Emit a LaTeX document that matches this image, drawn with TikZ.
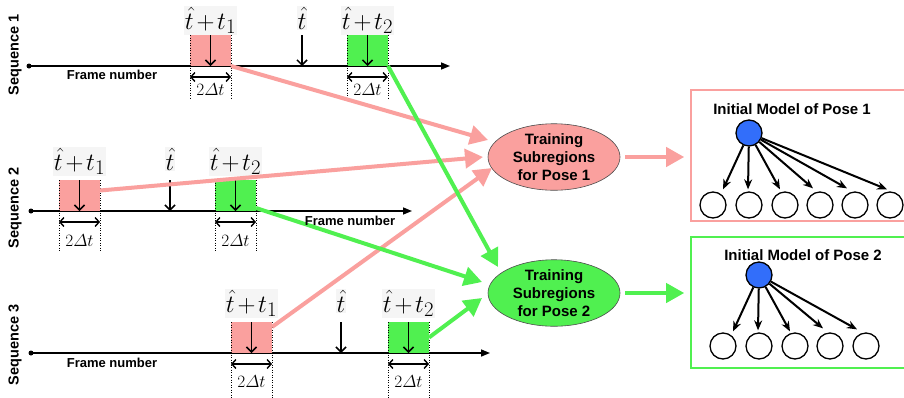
\documentclass[tikz,border=0pt]{standalone}
\usepackage{fontspec}
\newfontfamily\arialf{Liberation Sans}
\usetikzlibrary{arrows.meta,shapes.geometric}
\definecolor{pinkc}{RGB}{250,160,158}
\definecolor{greenc}{RGB}{80,240,80}
\definecolor{bluec}{RGB}{50,110,250}
\newcommand\itDelta{\mathchar"0101}
\tikzset{
  axisline/.style={line width=1.5pt,-{Triangle[length=9pt,width=7pt]}},
  dotnode/.style={circle,fill=black,inner sep=0pt,minimum size=5pt},
  redbox/.style={rectangle,fill=pinkc,minimum width=41pt,minimum height=31pt,inner sep=0pt,outer sep=0pt},
  greenbox/.style={redbox,fill=greenc},
  downarr/.style={line width=1.5pt,-{Straight Barb[length=5pt,width=10pt]}},
  dblarr/.style={line width=1.4pt,{Straight Barb[length=4pt,width=9pt]}-{Straight Barb[length=4pt,width=9pt]}},
  dotline/.style={line width=0.9pt,dash pattern=on 1pt off 1.5pt},
  mathlbl/.style={font=\fontsize{28}{30}\selectfont,anchor=base,fill=black!4,inner sep=1pt},
  deltalbl/.style={font=\fontsize{18}{20}\selectfont,inner sep=0pt},
  seqlbl/.style={rotate=90,font=\arialf\bfseries\fontsize{14.5}{16}\selectfont,inner sep=0pt},
  framelbl/.style={font=\arialf\bfseries\fontsize{13}{15}\selectfont,inner sep=0pt},
  pinkconn/.style={draw=pinkc,line width=4pt,-{Triangle[length=18pt,width=19pt]}},
  greenconn/.style={draw=greenc,line width=4pt,-{Triangle[length=18pt,width=19pt]}},
  trainell/.style={ellipse,draw=black!70,line width=0.6pt,minimum width=132pt,minimum height=60pt,inner sep=0pt,align=center,font=\arialf\bfseries\fontsize{15}{18}\selectfont},
  posebox/.style={rectangle,line width=1.6pt,minimum width=215pt,minimum height=131pt,inner sep=0pt},
  titlelbl/.style={font=\arialf\bfseries\fontsize{15}{17}\selectfont,inner sep=0pt},
  rootc/.style={circle,draw=black,fill=bluec,line width=1.3pt,minimum size=26pt,inner sep=0pt},
  childc/.style={circle,draw=black,fill=white,line width=1.3pt,minimum size=26pt,inner sep=0pt},
  treearr/.style={line width=2pt,-{Stealth[length=10pt,width=8pt]}}
}
% #1 prefix, #2 axis y, #3 x start, #4 x end, #5 red left, #6 hat x, #7 green left, #8 dotted bottom, #9 delta label offset
\newcommand\seqrow[9]{%
  \node[dotnode] (#1a) at (#3,#2) {};
  \coordinate (#1e) at (#4,#2);
  \draw[axisline] (#1a.center) -- (#1e);
  \node[redbox] (#1r) at ({#5+20.5},{#2-15.5}) {};
  \node[greenbox] (#1g) at ({#7+20.5},{#2-15.5}) {};
  \coordinate (#1ht) at (#6,{#2-31});
  \coordinate (#1hb) at (#6,#2);
  \draw[downarr] (#1r.north) -- (#1r.south);
  \draw[downarr] (#1g.north) -- (#1g.south);
  \draw[downarr] (#1ht) -- (#1hb);
  \coordinate (#1rl) at (#5,#8);
  \coordinate (#1rr) at ({#5+41},#8);
  \coordinate (#1gl) at (#7,#8);
  \coordinate (#1gr) at ({#7+41},#8);
  \draw[dotline] (#1r.north west) -- (#1rl);
  \draw[dotline] (#1r.north east) -- (#1rr);
  \draw[dotline] (#1g.north west) -- (#1gl);
  \draw[dotline] (#1g.north east) -- (#1gr);
  \draw[dblarr] ([yshift=-11pt]#1r.south west) -- ([yshift=-11pt]#1r.south east);
  \draw[dblarr] ([yshift=-11pt]#1g.south west) -- ([yshift=-11pt]#1g.south east);
  \node[deltalbl] (#1rd) at ({#5+20.5},{#2+#9}) {$2\itDelta t$};
  \node[deltalbl] (#1gd) at ({#7+20.5},{#2+#9}) {$2\itDelta t$};
  \node[mathlbl] (#1rt) at ({#5+20.5},{#2-31-\lgap}) {$\hat{t}\mkern2mu{+}\mkern2mu t_1$};
  \node[mathlbl] (#1tt) at (#6,{#2-31-\lgap}) {$\hat{t}$};
  \node[mathlbl] (#1gt) at ({#7+20.5},{#2-31-\lgap}) {$\hat{t}\mkern2mu{+}\mkern2mu t_2$};
}
\begin{document}
\begin{tikzpicture}[x=1pt,y=-1pt]
\useasboundingbox[fill=white] (0,0) rectangle (904,397);

\def\lgap{6}
\seqrow{s1}{66}{29}{450}{190}{302}{347}{100}{24}
\def\lgap{10}
\seqrow{s2}{211}{31}{412}{59}{170}{215}{252}{30}
\seqrow{s3}{353}{31}{490}{231}{341}{388}{400}{29}

\node[seqlbl] (sq1) at (15,55) {Sequence 1};
\node[seqlbl] (sq2) at (15,208) {Sequence 2};
\node[seqlbl] (sq3) at (15,345) {Sequence 3};

% ellipses
\node[trainell,fill=pinkc] (p1) at (554,157) {Training\\Subregions\\for Pose 1};
\node[trainell,fill=greenc] (p2) at (554,293) {Training\\Subregions\\for Pose 2};

% arrow targets near the ellipses
\coordinate (in11) at (488,140);
\coordinate (in12) at (483,157);
\coordinate (in13) at (492,168);
\coordinate (in21) at (498,267);
\coordinate (in22) at (482,282);
\coordinate (in23) at (482,298);

\draw[pinkconn] (s1r.south east) -- (in11);
\draw[pinkconn] ([yshift=5pt]s2r.east) -- (in12);
\draw[pinkconn] ([yshift=-5pt]s3r.north east) -- (in13);
\draw[greenconn] (s1g.south east) -- (in21);
\draw[greenconn] ([yshift=3pt]s2g.south east) -- (in22);
\draw[greenconn] (s3g.east) -- (in23);

\node[framelbl] (f1) at (112,75) {Frame number};
\node[framelbl] (f2) at (350,221) {Frame number};
\node[framelbl] (f3) at (112,363) {Frame number};

% model boxes
\node[posebox,draw=pinkc] (b1) at (798.5,155.5) {};
\node[posebox,draw=greenc] (b2) at (798.5,302.5) {};
\draw[pinkconn,shorten <=5pt,shorten >=6pt] (p1.east) -- (p1.east -| b1.west);
\draw[greenconn,shorten <=5pt,shorten >=6pt] (p2.east) -- (p2.east -| b2.west);

% tree 1
\node[titlelbl] (tl1) at (792,109) {Initial Model of Pose 1};
\node[rootc] (r1) at (749,133) {};
\node[childc] (c11) at (713,205) {};
\node[childc] (c12) at (749,205) {};
\node[childc] (c13) at (785,205) {};
\node[childc] (c14) at (820,205) {};
\node[childc] (c15) at (855,205) {};
\node[childc] (c16) at (890,205) {};
\draw[treearr] (r1) -- ([xshift=10pt,yshift=2pt]c11.north);
\draw[treearr] (r1) -- ([xshift=-1pt,yshift=2pt]c12.north);
\draw[treearr] (r1) -- ([xshift=-5pt,yshift=2pt]c13.north);
\draw[treearr] (r1) -- ([xshift=-7pt,yshift=3pt]c14.north);
\draw[treearr] (r1) -- ([xshift=-8pt,yshift=3pt]c15.north);
\draw[treearr] (r1) -- ([xshift=-3pt,yshift=2pt]c16.north);

% tree 2
\node[titlelbl] (tl2) at (803,255) {Initial Model of Pose 2};
\node[rootc] (r2) at (759,275) {};
\node[childc] (c21) at (723,346) {};
\node[childc] (c22) at (759,346) {};
\node[childc] (c23) at (795,346) {};
\node[childc] (c24) at (830,346) {};
\node[childc] (c25) at (866,346) {};
\draw[treearr] (r2) -- ([xshift=10pt,yshift=1pt]c21.north);
\draw[treearr] (r2) -- ([xshift=-1pt,yshift=2pt]c22.north);
\draw[treearr] (r2) -- ([xshift=-5pt,yshift=1pt]c23.north);
\draw[treearr] (r2) -- ([xshift=-7pt,yshift=4pt]c24.north);
\draw[treearr] (r2) -- ([xshift=-9pt,yshift=3pt]c25.north);
\end{tikzpicture}
\end{document}
